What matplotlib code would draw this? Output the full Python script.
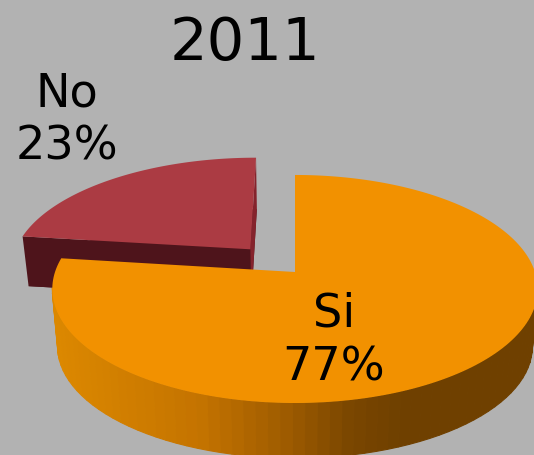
import numpy as np
import matplotlib
matplotlib.use("Agg")
import matplotlib.pyplot as plt
from matplotlib.colors import to_rgb

title = "2011"
slice_labels = ["Si", "No"]
slice_values = [77, 23]

BG = "#B2B2B2"
ORANGE = "#F29100"
RED = "#AB3B43"
RED_DARK = "#4E141B"
RED_CUT = "#85232C"
PERSP = 0.149
EXPLODE = 0.28
# side shading of the orange slice, screen x -> colour
SHADE_X = [55, 200, 290, 350, 400, 535]
SHADE_C = ["#DC8800", "#C47300", "#9C5A00", "#7A4600", "#6F4000", "#6F4000"]


def project(u, v, scale=1.0, dy=0.0, xs=1.0):
    w = 1 + PERSP * v
    return 295 + 240 * xs * scale * u / w, 272 + dy - 111.5 * scale * v / w


def wedge(start, end, shift=(0.0, 0.0), n=200):
    th = np.radians(np.linspace(start, end, n))
    return np.sin(th) + shift[0], np.cos(th) + shift[1]


fig = plt.figure(figsize=(5.34, 4.55), dpi=100, facecolor=BG)
ax = fig.add_axes([0, 0, 1, 1])
ax.set_xlim(0, 534)
ax.set_ylim(455, 0)
ax.axis("off")

si_end = 360 * slice_values[0] / sum(slice_values)
mid = np.radians((si_end + 360) / 2)
shift = (EXPLODE * np.sin(mid) - 0.005, EXPLODE * np.cos(mid))

# red slice, exploded
u, v = wedge(si_end, 360, shift)
u0, v0 = shift
top_x, top_y = project(np.r_[u0, u], np.r_[v0, v], xs=1.008)
bot_x, bot_y = project(np.r_[u0, u], np.r_[v0, v], 0.978, 49, xs=1.008)
ax.fill(bot_x, bot_y, color=RED_DARK, lw=0)
ax.fill([top_x[0], top_x[1], bot_x[1], bot_x[0]], [top_y[0], top_y[1], bot_y[1], bot_y[0]], color=RED_DARK, lw=0)
ax.fill([top_x[0], top_x[-1], bot_x[-1], bot_x[0]], [top_y[0], top_y[-1], bot_y[-1], bot_y[0]], color=RED_CUT, lw=0)
ax.fill(top_x, top_y, color=RED, lw=0)

# orange slice side, in bands, only below the widest point
u, v = wedge(0, si_end, n=110)
tx, ty = project(u, v)
bx, by = project(u, v, 0.978, 58)
stops = np.array([to_rgb(c) for c in SHADE_C])
for i in range(len(u) - 1):
    if v[i] > -PERSP and v[i + 1] > -PERSP:
        continue
    xm = (tx[i] + tx[i + 1]) / 2
    col = [np.interp(xm, SHADE_X, stops[:, k]) for k in range(3)]
    ax.fill([tx[i], tx[i + 1], bx[i + 1], bx[i]], [ty[i], ty[i + 1], by[i + 1], by[i]], color=col, lw=0.8, ec=col)

# orange top
u, v = wedge(0, si_end)
top_x, top_y = project(np.r_[0, u], np.r_[0, v])
ax.fill(top_x, top_y, color=ORANGE, lw=0)

ax.text(245, 43.5, title, fontsize=42.7, ha="center", va="center", color="black")
ax.text(67, 120.5, f"{slice_labels[1]}\n{slice_values[1]}%", fontsize=33.3, ha="center", va="center", color="black", linespacing=1.24)
ax.text(334, 341, f"{slice_labels[0]}\n{slice_values[0]}%", fontsize=33.3, ha="center", va="center", color="black", linespacing=1.24)

fig.savefig("out.png", dpi=100, facecolor=BG)
plt.close()
